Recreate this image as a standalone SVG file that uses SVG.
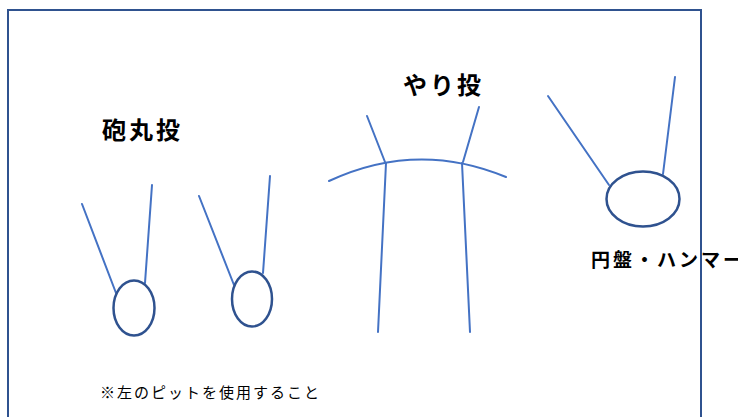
<svg xmlns="http://www.w3.org/2000/svg" width="738" height="417" viewBox="0 0 738 417">
<style>
.ln{stroke:#4472C4;stroke-width:2;fill:none;stroke-linecap:round}
.ring{stroke:#2F528F;stroke-width:2.5;fill:#fff}
.title{font-family:"Noto Sans CJK JP","Noto Sans",sans-serif;font-weight:bold;fill:#000}
.note{font-family:"Noto Sans CJK JP","Noto Sans",sans-serif;fill:#000}
</style>
<rect width="738" height="417" fill="#fff"/>
<g id="connectors">
<line class="ln" x1="82" y1="204" x2="116" y2="293"/>
<line class="ln" x1="152" y1="185" x2="145" y2="283"/>
<line class="ln" x1="199" y1="196" x2="234" y2="285"/>
<line class="ln" x1="270" y1="176" x2="263" y2="273"/>
<line class="ln" x1="367" y1="116" x2="385" y2="162"/>
<line class="ln" x1="386" y1="163" x2="378" y2="332"/>
<line class="ln" x1="479" y1="107" x2="463" y2="162"/>
<line class="ln" x1="462" y1="163" x2="470" y2="332"/>
<path class="ln" d="M329,181 Q417,140 506,177"/>
<line class="ln" x1="548" y1="96" x2="609" y2="185"/>
<line class="ln" x1="675" y1="77" x2="663" y2="174"/>
</g>
<g id="shotput-label"><text class="title" x="102" y="139" font-size="24" letter-spacing="3">砲丸投</text></g>
<g id="shotput-circle-1"><ellipse class="ring" cx="134" cy="308" rx="20.5" ry="27.5"/></g>
<g id="shotput-circle-2"><ellipse class="ring" cx="252" cy="299" rx="20" ry="27.5"/></g>
<g id="javelin-label"><text class="title" x="403" y="94" font-size="24" letter-spacing="3">やり投</text></g>
<g id="discus-circle"><ellipse class="ring" cx="643" cy="199" rx="36.5" ry="27.5"/></g>
<g id="discus-label"><text class="title" x="591" y="267" font-size="19" letter-spacing="3">円盤・ハンマー</text></g>
<g id="note"><text class="note" x="100" y="398" font-size="15" letter-spacing="2">※左のピットを使用すること</text></g>
<rect x="8" y="10" width="693" height="430" fill="none" stroke="#2F528F" stroke-width="2"/>
</svg>
